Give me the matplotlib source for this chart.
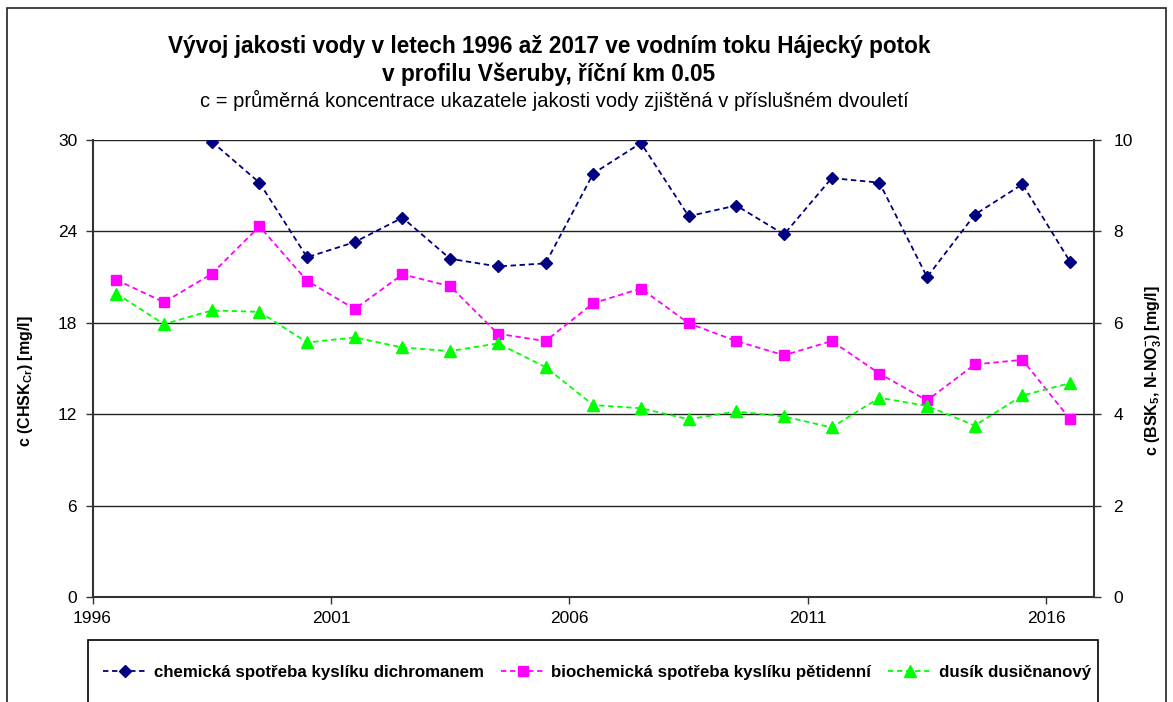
import matplotlib
matplotlib.use('Agg')
import matplotlib.pyplot as plt
from matplotlib.patches import Rectangle

plt.rcParams['font.family'] = ['Liberation Sans', 'DejaVu Sans']
plt.rcParams['mathtext.fontset'] = 'custom'
plt.rcParams['mathtext.rm'] = 'Liberation Sans'
plt.rcParams['mathtext.bf'] = 'Liberation Sans:bold'

# dvouletí - střed období
years = [1996.5, 1997.5, 1998.5, 1999.5, 2000.5, 2001.5, 2002.5, 2003.5, 2004.5, 2005.5,
         2006.5, 2007.5, 2008.5, 2009.5, 2010.5, 2011.5, 2012.5, 2013.5, 2014.5, 2015.5, 2016.5]

# CHSK-Cr (levá osa), první dvě dvouletí chybí
chsk = [None, None, 29.9, 27.2, 22.3, 23.3, 24.9, 22.2, 21.7, 21.9,
        27.8, 29.8, 25.0, 25.7, 23.8, 27.5, 27.2, 21.0, 25.1, 27.1, 22.0]
# BSK5 (pravá osa)
bsk5 = [6.94, 6.45, 7.07, 8.11, 6.92, 6.30, 7.06, 6.80, 5.76, 5.60,
        6.43, 6.75, 5.99, 5.60, 5.29, 5.60, 4.89, 4.30, 5.09, 5.19, 3.89]
# N-NO3 (pravá osa)
nno3 = [6.64, 5.97, 6.27, 6.24, 5.57, 5.68, 5.46, 5.38, 5.55, 5.03,
        4.20, 4.13, 3.89, 4.06, 3.95, 3.71, 4.36, 4.18, 3.75, 4.41, 4.68]

left_ticks = [0, 6, 12, 18, 24, 30]
right_ticks = [0, 2, 4, 6, 8, 10]
x_ticks = [1996, 2001, 2006, 2011, 2016]

W, H = 1173, 702
fig = plt.figure(figsize=(W / 100, H / 100), dpi=100)
ax = fig.add_axes([92.5 / W, 1 - 597 / H, (1094 - 92.5) / W, (597 - 140) / H])
ax2 = ax.twinx()

ch_x = [x for x, v in zip(years, chsk) if v is not None]
ch_y = [v for v in chsk if v is not None]
l1, = ax.plot(ch_x, ch_y, ls='--', lw=1.3, color='#000080', marker='D', ms=6,
              dashes=(3, 2), label='chemická spotřeba kyslíku dichromanem', zorder=5)
l2, = ax2.plot(years, bsk5, ls='--', lw=1.3, color='#FF00FF', marker='s', ms=7.5,
               dashes=(3, 2), label='biochemická spotřeba kyslíku pětidenní', zorder=5)
l3, = ax2.plot(years, nno3, ls='--', lw=1.3, color='#00FF00', marker='^', ms=8,
               dashes=(3, 2), label='dusík dusičnanový', zorder=5)

ax.set_xlim(1996, 2017)
ax.set_ylim(0, 30)
ax2.set_ylim(0, 10)
ax.set_xticks(x_ticks)
ax.set_yticks(left_ticks)
ax2.set_yticks(right_ticks)
ax.grid(axis='y', color='#222222', lw=1.0)
ax.set_axisbelow(True)

for a in (ax, ax2):
    a.spines['top'].set_visible(False)
    a.tick_params(labelsize=12.5, direction='out', length=5, width=1, color='#333333')
ax.tick_params(axis='y', pad=6)
ax.tick_params(axis='x', pad=5)
ax2.tick_params(axis='y', pad=9)
ax.spines['right'].set_visible(False)
ax2.spines['left'].set_visible(False)
ax2.spines['bottom'].set_visible(False)
ax.spines['left'].set_color('#333333')
ax.spines['bottom'].set_color('#333333')
ax2.spines['right'].set_color('#333333')
ax.spines['left'].set_linewidth(1.5)
ax.spines['bottom'].set_linewidth(1.5)
ax2.spines['right'].set_linewidth(1.5)

ax.set_ylabel(r'c (CHSK$_{\mathbf{Cr}}$) [mg/l]', fontsize=11.5, fontweight='bold')
ax.yaxis.set_label_coords((35 - 92.5) / (1094 - 92.5), (597 - 381) / (597 - 140))
ax2.set_ylabel(r'c (BSK$_{\mathbf{5}}$, N-NO$_{\mathbf{3}}^{\mathbf{-}}$) [mg/l]',
               fontsize=11.5, fontweight='bold')
ax2.yaxis.set_label_coords((1143 - 92.5) / (1094 - 92.5), (597 - 371) / (597 - 140))

fig.text(549 / W, 1 - 47 / H, 'Vývoj jakosti vody v letech 1996 až 2017 ve vodním toku Hájecký potok',
         ha='center', va='center', fontsize=16.3, fontweight='bold')
fig.text(549 / W, 1 - 74 / H, 'v profilu Všeruby, říční km 0.05',
         ha='center', va='center', fontsize=16.3, fontweight='bold')
fig.text(554 / W, 1 - 100 / H, 'c = průměrná koncentrace ukazatele jakosti vody zjištěná v příslušném dvouletí',
         ha='center', va='center', fontsize=14.5)

# rámeček grafu a legendy
fig.patches.append(Rectangle((7 / W, -0.05), (1166 - 7) / W, 1.05 - 8 / H, transform=fig.transFigure,
                             fill=False, edgecolor='#222222', lw=1.2))
fig.patches.append(Rectangle((88 / W, -0.05), (1098 - 88) / W, 0.05 + 1 - 640 / H, transform=fig.transFigure,
                             fill=False, edgecolor='black', lw=1.2))

fig.legend(handles=[l1, l2, l3], loc='center', bbox_to_anchor=(597 / W, 1 - 672 / H), ncol=3,
           frameon=False, prop={'weight': 'bold', 'size': 12.2}, handlelength=2.6,
           columnspacing=1.0, handletextpad=0.4)

fig.savefig('out.png', dpi=100)
